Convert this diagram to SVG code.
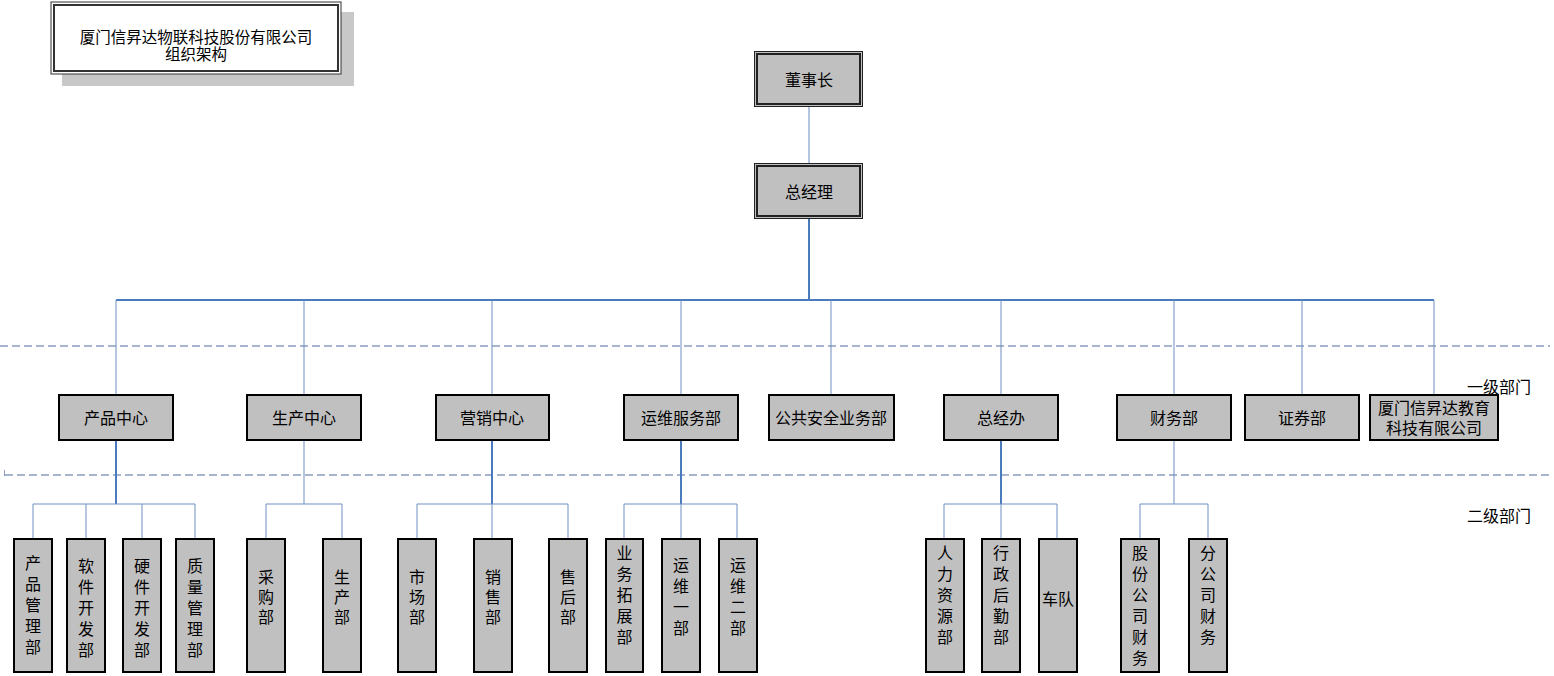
<svg xmlns="http://www.w3.org/2000/svg" width="1554" height="676" viewBox="0 0 1554 676">
<style>
text{font-family:"Noto Sans CJK SC","Liberation Sans",sans-serif;font-size:16px;fill:#000;text-anchor:middle;dominant-baseline:central}
.v{writing-mode:vertical-rl;text-orientation:upright;letter-spacing:5px}
.v3{writing-mode:vertical-rl;text-orientation:upright;letter-spacing:4px}
.b{fill:#c0c0c0;stroke:#000;stroke-width:2}
.thin{stroke:#6f8fc0;stroke-width:1;fill:none}
.thick{stroke:#4a7bbd;stroke-width:2;fill:none}
.light{stroke:#9db3d6;stroke-width:1.5;fill:none}
.dash{stroke:#8b9dc0;stroke-width:1.3;stroke-dasharray:8 4;fill:none}
</style>
<rect width="1554" height="676" fill="#fff"/>
<g id="guides">
<path class="dash" d="M0 346H1550"/>
<path class="dash" d="M5 475H1550"/>
<path d="M4.5 470V476" stroke="#8b9dc0" stroke-width="1"/>
<text x="1499" y="386">一级部门</text>
<text x="1499" y="515">二级部门</text>
</g>
<g id="title">
<rect x="62" y="12" width="292" height="74" fill="#c8c8c8"/>
<rect x="51" y="2" width="290" height="72" fill="#fff" stroke="#333" stroke-width="1"/>
<rect x="54" y="5" width="284" height="66" fill="none" stroke="#333" stroke-width="2"/>
<text x="196" y="36" style="font-size:15.5px">厦门信昇达物联科技股份有限公司</text>
<text x="196" y="53" style="font-size:15.5px">组织架构</text>
</g>
<g id="connectors">
<path class="light" d="M809 106V163"/>
<path class="thick" d="M809 219V300M116 300H1434"/>
<path class="thin" d="M116 300V395M304 300V395M492 300V395M681 300V395M831 300V395M1001 300V395M1174 300V395M1302 300V395M1434 300V395"/>
<path class="thick" d="M116 440V504M492 440V504M681 440V504M1001 440V504"/>
<path class="thin" d="M304 440V504M1174 440V504"/>
<path class="thin" d="M33 539V504H195V539M86 504V539M142 504V539"/>
<path class="thin" d="M266 539V504H342V539"/>
<path class="thin" d="M417 539V504H568V539M492 504V539"/>
<path class="thin" d="M624 539V504H737V539M681 504V539"/>
<path class="thin" d="M944 539V504H1057V539M1001 504V539"/>
<path class="thin" d="M1140 539V504H1208V539"/>
</g>
<g id="n-dsz">
<rect x="754.5" y="51.5" width="108" height="55" fill="#c0c0c0" stroke="#222" stroke-width="1"/>
<rect x="757" y="54" width="103" height="50" fill="none" stroke="#222" stroke-width="2"/>
<text x="809" y="79">董事长</text>
</g>
<g id="n-zjl">
<rect x="754.5" y="163.5" width="108" height="55" fill="#c0c0c0" stroke="#222" stroke-width="1"/>
<rect x="757" y="166" width="103" height="50" fill="none" stroke="#222" stroke-width="2"/>
<text x="809" y="191">总经理</text>
</g>
<g id="n-cpzx"><rect class="b" x="59" y="395" width="114" height="45"/><text x="116" y="417">产品中心</text></g>
<g id="n-sczx"><rect class="b" x="247" y="395" width="114" height="45"/><text x="304" y="417">生产中心</text></g>
<g id="n-yxzx"><rect class="b" x="436" y="395" width="113" height="45"/><text x="492" y="417">营销中心</text></g>
<g id="n-ywfwb"><rect class="b" x="624" y="395" width="114" height="45"/><text x="681" y="417">运维服务部</text></g>
<g id="n-ggaq"><rect class="b" x="769" y="395" width="125" height="45"/><text x="831" y="417">公共安全业务部</text></g>
<g id="n-zjb"><rect class="b" x="944" y="395" width="114" height="45"/><text x="1001" y="417">总经办</text></g>
<g id="n-cwb"><rect class="b" x="1117" y="395" width="114" height="45"/><text x="1174" y="417">财务部</text></g>
<g id="n-zqb"><rect class="b" x="1245" y="395" width="114" height="45"/><text x="1302" y="417">证券部</text></g>
<g id="n-jy"><rect class="b" x="1370" y="395" width="128" height="45"/><text x="1434" y="407">厦门信昇达教育</text><text x="1434" y="427">科技有限公司</text></g>
<g id="n-cpglb"><rect class="b" x="14" y="539" width="38" height="133"/><text class="v" x="33" y="607.5">产品管理部</text></g>
<g id="n-rjkfb"><rect class="b" x="67" y="539" width="38" height="133"/><text class="v" x="86" y="610.5">软件开发部</text></g>
<g id="n-yjkfb"><rect class="b" x="123" y="539" width="38" height="133"/><text class="v" x="142" y="610.5">硬件开发部</text></g>
<g id="n-zlglb"><rect class="b" x="176" y="539" width="38" height="133"/><text class="v" x="195" y="610.5">质量管理部</text></g>
<g id="n-cgb"><rect class="b" x="247" y="539" width="38" height="133"/><text class="v3" x="266" y="599">采购部</text></g>
<g id="n-scb"><rect class="b" x="323" y="539" width="38" height="133"/><text class="v3" x="342" y="599">生产部</text></g>
<g id="n-scb2"><rect class="b" x="398" y="539" width="38" height="133"/><text class="v3" x="417" y="599">市场部</text></g>
<g id="n-xsb"><rect class="b" x="474" y="539" width="38" height="133"/><text class="v3" x="493" y="599">销售部</text></g>
<g id="n-shb"><rect class="b" x="549" y="539" width="38" height="133"/><text class="v3" x="568" y="599">售后部</text></g>
<g id="n-ywtzb"><rect class="b" x="606" y="539" width="37" height="133"/><text class="v" x="624.5" y="597.5">业务拓展部</text></g>
<g id="n-yw1"><rect class="b" x="662" y="539" width="38" height="133"/><text class="v" x="681" y="599">运维一部</text></g>
<g id="n-yw2"><rect class="b" x="719" y="539" width="38" height="133"/><text class="v" x="738" y="599">运维二部</text></g>
<g id="n-rlzyb"><rect class="b" x="926" y="539" width="38" height="133"/><text class="v" x="945" y="597.5">人力资源部</text></g>
<g id="n-xzhqb"><rect class="b" x="982" y="539" width="38" height="133"/><text class="v" x="1001" y="597.5">行政后勤部</text></g>
<g id="n-cd"><rect class="b" x="1039" y="539" width="38" height="133"/><text x="1058" y="598">车队</text></g>
<g id="n-gfgscw"><rect class="b" x="1121" y="539" width="38" height="133"/><text class="v" x="1140" y="608">股份公司财务</text></g>
<g id="n-fgscw"><rect class="b" x="1189" y="539" width="38" height="133"/><text class="v" x="1208" y="597.5">分公司财务</text></g>
</svg>
